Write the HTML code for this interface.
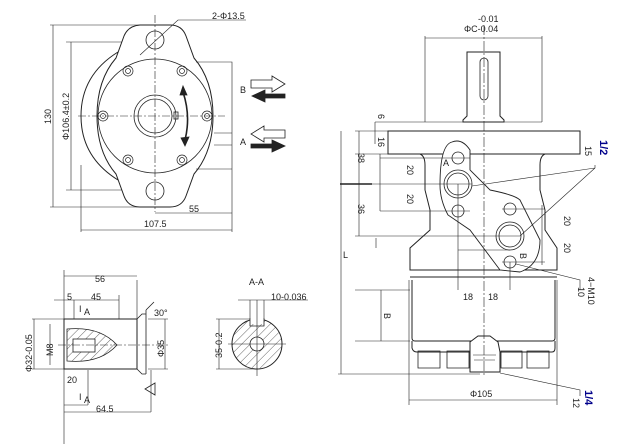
<!DOCTYPE html>
<html><head><style>body{margin:0;background:#fff}svg{display:block}text{font-family:"Liberation Sans",sans-serif;font-size:9px;fill:#222}</style></head><body>
<svg width="632" height="444" viewBox="0 0 632 444" xmlns="http://www.w3.org/2000/svg" fill="none" stroke="#222" stroke-width="0.8">
<defs><pattern id="h" width="6" height="6" patternUnits="userSpaceOnUse" patternTransform="rotate(45)"><line x1="0" y1="0" x2="0" y2="6" stroke="#222" stroke-width="0.7"/></pattern></defs>
<!-- FRONT VIEW -->
<g>
<path d="M50 25 H155 M50 207 H155 M66 42 H175 M66 190 H175" stroke-width="0.6"/>
<path d="M53 25 V207 M71 42 V190" stroke-width="0.6"/>
<path d="M118 52 Q81 75 81 116 Q81 157 118 180" stroke-width="1"/>
<path d="M140 25 Q128 26 124 36 L116 58 Q97 80 97 116 Q97 152 116 174 L124 196 Q128 207 140 207 H170 Q182 207 186 196 L194 174 Q213 152 213 116 Q213 80 194 58 L186 36 Q182 25 170 25 Z" fill="#fff" stroke-width="1"/>
<circle cx="155" cy="116" r="57"/>
<circle cx="155" cy="40" r="9"/><circle cx="155" cy="191" r="9"/>
<circle cx="155" cy="116" r="21"/><circle cx="155" cy="116" r="17"/>
<rect x="174" y="112" width="4" height="7"/>
<g stroke-width="0.7">
<circle cx="128" cy="71" r="5"/><circle cx="128" cy="71" r="2.5"/>
<circle cx="182" cy="71" r="5"/><circle cx="182" cy="71" r="2.5"/>
<circle cx="103" cy="116" r="5"/><circle cx="103" cy="116" r="2.5"/>
<circle cx="207" cy="116" r="5"/><circle cx="207" cy="116" r="2.5"/>
<circle cx="128" cy="160" r="5"/><circle cx="128" cy="160" r="2.5"/>
<circle cx="182" cy="160" r="5"/><circle cx="182" cy="160" r="2.5"/>
</g>
<path d="M155 15 V212 M78 116 H225" stroke-dasharray="8 2 2 2" stroke-width="0.6"/>
<path d="M183 92 Q191 116 185 140" stroke-width="1.6"/>
<path d="M180 95 L183 86 L187 95 Z M181 138 L185 146 L189 137 Z" fill="#222"/>
<path d="M196 62 H232 V232 M214 133 H232 M214 145 H232 M196 169 H232" stroke-width="0.6"/>
<path d="M155 213 H232 M81 230 H232 M81 165 V232" stroke-width="0.6"/>
<path d="M140 55 L178 20 H246" stroke-width="0.6"/>
<path d="M251 80 H272 V76 L285 84 L272 92 V88 H251 Z"/>
<path d="M285 94 H265 V90 L252 96 L265 102 V98 H285 Z" fill="#222"/>
<path d="M285 130 H264 V126 L251 134 L264 142 V138 H285 Z"/>
<path d="M251 144 H272 V140 L285 146 L272 152 V148 H251 Z" fill="#222"/>
</g>
<g stroke="none">
<text x="212" y="19">2-Φ13.5</text>
<text x="240" y="93">B</text><text x="240" y="145">A</text>
<text x="189" y="212">55</text><text x="144" y="227">107.5</text>
<text transform="translate(51,124) rotate(-90)">130</text>
<text transform="translate(69,140) rotate(-90)">Φ106.4±0.2</text>
</g>
<!-- SHAFT SIDE VIEW -->
<g>
<path d="M64 319 H137 V369 H64 Z" stroke-width="1"/>
<path d="M137 319 L142 314 H146 M137 369 L142 374 H146 M146 310 V374 M146 310 L154 302"/>
<path d="M67 329 Q100 326 117 345 Q100 364 67 361 Z" fill="url(#h)"/>
<rect x="73" y="339" width="22" height="13" fill="#fff"/>
<path d="M58 345 H170" stroke-dasharray="8 2 2 2" stroke-width="0.6"/>
<path d="M64 270 V444 M137 280 V319 M74 300 V319 M119 295 V319 M64 276 H137 M54 300 H119 M32 319 H64 M32 369 H64 M50 324 V365 M34 319 V369 M64 412 H151 M151 370 V412 M64 404 V418 M88 370 V405 M64 405 H88 M165 319 V369 M148 319 H168 M148 369 H168" stroke-width="0.6"/>
<path d="M145 389 L155 383 V395 Z"/>
<circle cx="257" cy="344" r="25" fill="url(#h)" stroke-width="1"/>
<rect x="250" y="316" width="14" height="8" fill="#fff" stroke="none"/>
<path d="M250 318 V326 H264 V318"/>
<circle cx="257" cy="344" r="7" fill="#fff"/>
<path d="M228 344 H286 M257 300 V376 M238 300 H308 M250 300 V318 M264 300 V318 M216 319 H250 M216 369 H257 M219 319 V369" stroke-width="0.6"/>
</g>
<g stroke="none">
<text x="95" y="282">56</text><text x="67" y="300">5</text><text x="91" y="300">45</text>
<text x="79" y="312">I</text><text x="84" y="315">A</text>
<text x="154" y="316">30°</text>
<text x="67" y="383">20</text><text x="79" y="400">I</text><text x="84" y="403">A</text>
<text x="96" y="412">64.5</text>
<text transform="translate(32,372) rotate(-90)">Φ32-0.05</text>
<text transform="translate(53,356) rotate(-90)">M8</text>
<text transform="translate(164,357) rotate(-90)">Φ35</text>
<text x="249" y="285">A-A</text><text x="271" y="300">10-0.036</text>
<text transform="translate(222,358) rotate(-90)">35-0.2</text>
</g>
<!-- RIGHT VIEW -->
<g>
<path d="M425 36 V122 M542 36 V122 M425 38 H542 M375 122 H542 M375 122 V144" stroke-width="0.6"/>
<path d="M467 52 H500 V116 L504 120 V122 H463 V120 L467 116 Z" stroke-width="1"/>
<rect x="480" y="58" width="8" height="42" rx="4"/>
<rect x="388" y="131" width="192" height="23" stroke-width="1"/>
<path d="M420 154 Q425 156 425 165 V190 L430 210 V230 L410 248 V270 H557 V248 L545 230 V210 L540 190 V165 Q540 156 545 154" stroke-width="1"/>
<path d="M410 277 H557 M412 280 V338 Q412 341 415 341 H552 Q555 341 555 338 V280 M412 341 V348 Q413 352 417 352 H552 Q555 352 555 348 V341" stroke-width="1"/>
<path d="M418 351 H440 V368 H418 Z M447 351 H469 V368 H447 Z M501 351 H522 V368 H501 Z M527 351 H549 V368 H527 Z" stroke-width="0.8"/>
<path d="M470 342 L478 336 H490 L498 342 L500 352 V372 H470 V352 Z" fill="#fff" stroke-width="1"/>
<path d="M473 355 H496 M474 360 H495" stroke-width="0.6"/>
<path d="M452 142 Q462 138 470 150 L470 170 L490 190 Q515 195 520 200 L540 240 Q540 265 520 272 L500 270 L470 230 L448 215 Q440 200 440 185 Q440 145 452 142 Z" fill="#fff" stroke-width="0.9"/>
<circle cx="458" cy="184" r="14"/><circle cx="458" cy="184" r="11"/>
<circle cx="458" cy="158" r="6"/><circle cx="458" cy="211" r="6"/>
<circle cx="510" cy="236" r="14"/><circle cx="510" cy="236" r="11"/>
<circle cx="510" cy="209" r="6"/><circle cx="510" cy="262" r="6"/>
<path d="M484 25 V375" stroke-dasharray="10 2 2 2" stroke-width="0.6"/>
<path d="M355 131 H388 M355 184 H472 M355 236 H520 M355 154 H388 M376 238 V248 M355 290 H410 M355 341 H410 M338 374 H480 M341 131 V374 M359 131 V236 M380 154 V211 M380 158 H470 M380 211 H470 M502 209 H545 M502 262 H545 M542 205 V265 M381 290 V341 M458 184 V290 M510 262 V290 M458 250 H510 M409 280 V405 M557 280 V405 M409 400 H557" stroke-width="0.6"/>
<path d="M340 184 H372" stroke-width="1.6"/>
<path d="M472 186 L595 168 M520 236 L595 168 V165 M516 264 L580 280 V290 M500 373 L580 390 V396" stroke-width="0.6"/>
</g>
<g stroke="none">
<text x="478" y="22">-0.01</text><text x="464" y="32">ΦC-0.04</text>
<text transform="translate(378,114) rotate(90)">6</text>
<text transform="translate(378,137) rotate(90)">16</text>
<text transform="translate(358,153) rotate(90)">38</text>
<text transform="translate(358,204) rotate(90)">36</text>
<text transform="translate(407,165) rotate(90)">20</text>
<text transform="translate(407,194) rotate(90)">20</text>
<text transform="translate(564,216) rotate(90)">20</text>
<text transform="translate(564,243) rotate(90)">20</text>
<text transform="translate(585,146) rotate(90)">15</text>
<text transform="translate(600,140) rotate(90)" style="font-size:11px;font-weight:bold;fill:#00008b">1/2</text>
<text x="443" y="166">A</text><text transform="translate(520,253) rotate(90)">B</text>
<text transform="translate(588,277) rotate(90)">4−M10</text>
<text transform="translate(578,287) rotate(90)">10</text>
<text x="463" y="300">18</text><text x="488" y="300">18</text>
<text transform="translate(384,313) rotate(90)">B</text>
<text x="343" y="258">L</text>
<text x="470" y="397">Φ105</text>
<text transform="translate(585,390) rotate(90)" style="font-size:11px;font-weight:bold;fill:#00008b">1/4</text>
<text transform="translate(573,398) rotate(90)">12</text>
</g>
</svg>
</body></html>
